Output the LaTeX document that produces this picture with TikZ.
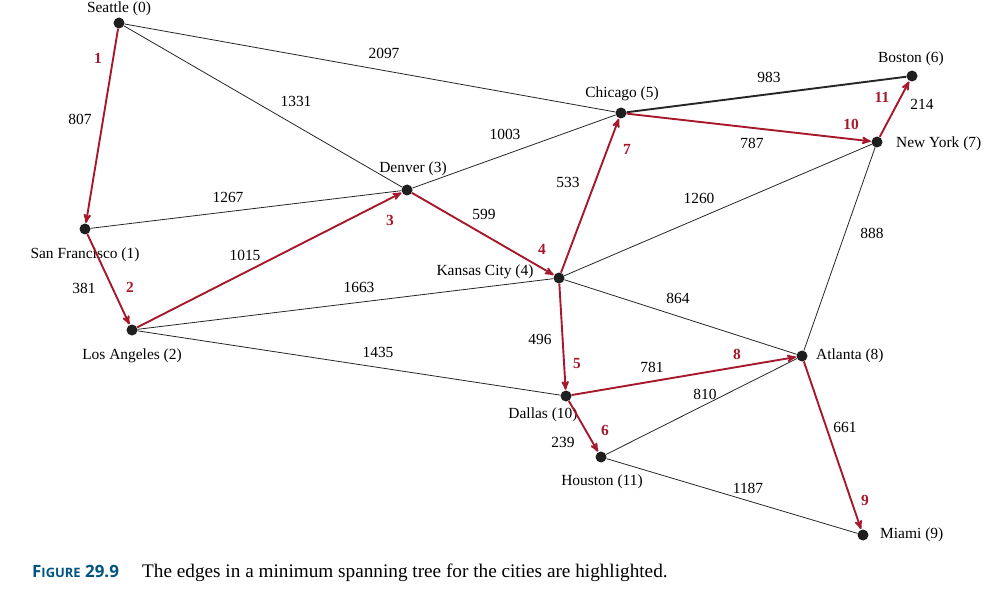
\documentclass[tikz,border=0pt]{standalone}
\usepackage{fontspec}
\setmainfont{Liberation Serif}
\newfontfamily\capfont{Open Sans}
\usepackage{tikz}
\usetikzlibrary{arrows,positioning}
\definecolor{mstred}{RGB}{166,24,44}
\definecolor{capblue}{RGB}{0,84,130}
\tikzset{
  >=stealth',
  city/.style={circle, fill=black!88, inner sep=0pt, minimum size=11bp},
  cityname/.style={font=\fontsize{15.5}{18}\selectfont, inner sep=0pt},
  road/.style={draw, line width=0.8bp, black!85},
  mst/.style={draw=mstred, line width=1.9bp, ->, shorten >=0.5bp},
  weight/.style={font=\fontsize{15.5}{18}\selectfont, inner sep=0pt},
  order/.style={font=\fontsize{15.5}{18}\selectfont\bfseries, text=mstred, inner sep=0pt}
}

\begin{document}
\begin{tikzpicture}[x=1bp,y=-1bp]
    \useasboundingbox (0,0) rectangle (995,606);
    % Cities
    \node[city] (sea) at (119,23)  {};
    \node[city] (sf)  at (85,229)  {};
    \node[city] (la)  at (132,330) {};
    \node[city] (den) at (407,190) {};
    \node[city] (kc)  at (559,278) {};
    \node[city] (chi) at (621,113) {};
    \node[city] (bos) at (912,76)  {};
    \node[city] (ny)  at (877,142) {};
    \node[city] (atl) at (802,356) {};
    \node[city] (dal) at (566,396) {};
    \node[city] (hou) at (601,457) {};
    \node[city] (mia) at (863,535) {};
    % City names
    \node[cityname] (seaname) at (119,9)   {Seattle (0)};
    \node[cityname] (sfname)  at (85,255)  {San Francisco (1)};
    \node[cityname] (laname)  at (132,356) {Los Angeles (2)};
    \node[cityname] (denname) at (413,169) {Denver (3)};
    \node[cityname] (kcname)  at (485,272) {Kansas City (4)};
    \node[cityname] (chiname) at (622,94)  {Chicago (5)};
    \node[cityname] (bosname) at (911,59)  {Boston (6)};
    \node[cityname, anchor=west] (nyname)  at (896,144) {New York (7)};
    \node[cityname, anchor=west] (atlname) at (816,356) {Atlanta (8)};
    \node[cityname, anchor=west] (mianame) at (880,535) {Miami (9)};
    \node[cityname] (dalname) at (543,415) {Dallas (10)};
    \node[cityname] (houname) at (602,482) {Houston (11)};
    % Roads
    \draw[road] (sea) -- (den);
    \draw[road] (sea) -- (chi);
    \draw[road] (sf) -- (den);
    \draw[road] (la) -- (kc);
    \draw[road] (la) -- (dal);
    \draw[road] (den) -- (chi);
    \draw[road] (kc) -- (ny);
    \draw[road] (kc) -- (atl);
    \draw[road] (ny) -- (atl);
    \draw[road] (atl) -- (hou);
    \draw[road] (hou) -- (mia);
    \draw[road, line width=1.9bp] (chi) -- (bos);
    % Spanning tree
    \draw[mst] (sea) -- (sf);
    \draw[mst] (sf) -- (la);
    \draw[mst] (la) -- (den);
    \draw[mst] (den) -- (kc);
    \draw[mst] (kc) -- (dal);
    \draw[mst] (dal) -- (hou);
    \draw[mst] (kc) -- (chi);
    \draw[mst] (dal) -- (atl);
    \draw[mst] (atl) -- (mia);
    \draw[mst] (chi) -- (ny);
    \draw[mst] (ny) -- (bos);
    % Weights
    \node[weight] (w807)  at (80,119)  {807};
    \node[weight] (w2097) at (384,53)  {2097};
    \node[weight] (w1331) at (296,101) {1331};
    \node[weight] (w1267) at (228,197) {1267};
    \node[weight] (w1003) at (505,134) {1003};
    \node[weight] (w983)  at (769,77)  {983};
    \node[weight] (w214)  at (922,104) {214};
    \node[weight] (w787)  at (752,143) {787};
    \node[weight] (w533)  at (568,182) {533};
    \node[weight] (w1260) at (699,198) {1260};
    \node[weight] (w599)  at (484,214) {599};
    \node[weight] (w888)  at (872,233) {888};
    \node[weight] (w1015) at (245,255) {1015};
    \node[weight] (w381)  at (84,288)  {381};
    \node[weight] (w1663) at (359,287) {1663};
    \node[weight] (w864)  at (678,298) {864};
    \node[weight] (w496)  at (540,339) {496};
    \node[weight] (w1435) at (378,352) {1435};
    \node[weight] (w781)  at (652,367) {781};
    \node[weight] (w810)  at (705,394) {810};
    \node[weight] (w239)  at (563,442) {239};
    \node[weight] (w661)  at (845,427) {661};
    \node[weight] (w1187) at (748,488) {1187};
    % Order in which the edges are added
    \node[order] (o1)  at (98,58)   {1};
    \node[order] (o2)  at (130,287) {2};
    \node[order] (o3)  at (390,220) {3};
    \node[order] (o4)  at (542,249) {4};
    \node[order] (o5)  at (577,364) {5};
    \node[order] (o6)  at (605,430) {6};
    \node[order] (o7)  at (627,149) {7};
    \node[order] (o8)  at (737,354) {8};
    \node[order] (o9)  at (865,500) {9};
    \node[order] (o10) at (851,124) {10};
    \node[order] (o11) at (882,97)  {11};
    % Caption
    \node[anchor=base west, inner sep=0pt, text=capblue] (fignum) at (32,577)
      {\capfont\bfseries\fontsize{17}{20}\selectfont F\fontsize{13}{20}\selectfont IGURE\fontsize{17}{20}\selectfont{} 29.9};
    \node[anchor=base west, inner sep=0pt, font=\fontsize{19.3}{22}\selectfont] (figtext) at (142,577)
      {The edges in a minimum spanning tree for the cities are highlighted.};
\end{tikzpicture}
\end{document}
